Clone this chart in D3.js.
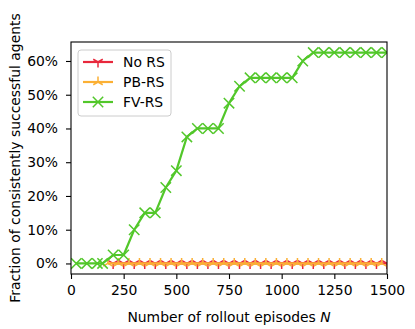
<!DOCTYPE html>
<html>
<head>
<meta charset="utf-8">
<script src="https://cdn.jsdelivr.net/npm/d3@7"></script>
<style>
  body { margin: 0; background: #fff; }
  svg { display: block; font-family: "DejaVu Sans", sans-serif; }
</style>
</head>
<body>
<svg width="415" height="329"></svg>
<script>
// rollout episodes N vs fraction of agents (in %)
var seriesNames = ["No RS", "PB-RS", "FV-RS"];

var noRsX = [200, 250, 300, 350, 400, 450, 500, 550, 600, 650, 700, 750, 800, 850,
             900, 950, 1000, 1050, 1100, 1150, 1200, 1250, 1300, 1350, 1400, 1450, 1500];
var noRsY = [0, 0, 0, 0, 0, 0, 0, 0, 0, 0, 0, 0, 0, 0, 0, 0, 0, 0, 0, 0, 0, 0, 0, 0, 0, 0, 0];

var pbRsX = [175, 225, 275, 325, 375, 425, 475, 525, 575, 625, 675, 725, 775, 825,
             875, 925, 975, 1025, 1075, 1125, 1175, 1225, 1275, 1325, 1375, 1425, 1475];
var pbRsY = [0, 0, 0, 0, 0, 0, 0, 0, 0, 0, 0, 0, 0, 0, 0, 0, 0, 0, 0, 0, 0, 0, 0, 0, 0, 0, 0];

var fvRsX = [25, 75, 125, 150, 200, 250, 300, 350, 400, 450, 500, 550, 600, 650, 700, 750,
             800, 850, 900, 950, 1000, 1050, 1100, 1150, 1200, 1250, 1300, 1350, 1400, 1450, 1500];
var fvRsY = [0, 0, 0, 0, 2.5, 2.5, 10, 15, 15, 22.5, 27.5, 37.5, 40, 40, 40, 47.5,
             52.5, 55, 55, 55, 55, 55, 60, 62.5, 62.5, 62.5, 62.5, 62.5, 62.5, 62.5, 62.5];

var xTicks = [0, 250, 500, 750, 1000, 1250, 1500];
var yTicks = [0, 10, 20, 30, 40, 50, 60];

var colors = ["#e8283c", "#fbb034", "#52c72a"];
var markers = ["tri_down", "tri_up", "x"];

var mLeft = 71, mRight = 387, mTop = 42, mBottom = 274;

var svg = d3.select("svg");

var x = d3.scaleLinear().domain([0, 1500]).range([mLeft, mRight]);
var y = d3.scaleLinear().domain([-3.125, 65.625]).range([mBottom, mTop]);

var markerPath = function(type, r) {
  if (type == "x") return "M" + (-r) + "," + (-r) + "L" + r + "," + r + "M" + (-r) + "," + r + "L" + r + "," + (-r);
  var a = 0.866 * r, b = 0.5 * r;
  if (type == "tri_down") return "M0,0L0," + r + "M0,0L" + (-a) + "," + (-b) + "M0,0L" + a + "," + (-b);
  return "M0,0L0," + (-r) + "M0,0L" + (-a) + "," + b + "M0,0L" + a + "," + b;
};
var markerSize = [5.5, 5.5, 5.2];

// clip to the axes box
svg.append("clipPath").attr("id", "clip")
  .append("rect").attr("x", mLeft).attr("y", mTop).attr("width", mRight - mLeft).attr("height", mBottom - mTop);

var series = [
  {xs: noRsX, ys: noRsY},
  {xs: pbRsX, ys: pbRsY},
  {xs: fvRsX, ys: fvRsY}
];

var plot = svg.append("g").attr("clip-path", "url(#clip)");
var line = d3.line().x(function(d){ return x(d[0]); }).y(function(d){ return y(d[1]); });

series.forEach(function(s, i) {
  var pts = d3.zip(s.xs, s.ys);
  plot.append("path")
    .attr("d", line(pts))
    .attr("fill", "none")
    .attr("stroke", colors[i])
    .attr("stroke-width", 2.2)
    .attr("stroke-linejoin", "round");
  plot.selectAll(".m" + i)
      .data(pts)
    .enter().append("path")
      .attr("class", "m" + i)
      .attr("transform", function(d){ return "translate(" + x(d[0]) + "," + y(d[1]) + ")"; })
      .attr("d", markerPath(markers[i], markerSize[i]))
      .attr("fill", "none")
      .attr("stroke", colors[i])
      .attr("stroke-width", 1.5);
});

// axes
var xAxis = svg.append("g").attr("transform", "translate(0," + mBottom + ")")
  .call(d3.axisBottom(x).tickValues(xTicks).tickSize(5).tickPadding(6).tickFormat(d3.format("d")));
var yAxis = svg.append("g").attr("transform", "translate(" + mLeft + ",0)")
  .call(d3.axisLeft(y).tickValues(yTicks).tickSize(5).tickPadding(8).tickFormat(function(d){ return d + "%"; }));

[xAxis, yAxis].forEach(function(ax) {
  ax.select(".domain").remove();
  ax.selectAll("line").attr("stroke", "#000").attr("stroke-width", 1.1);
  ax.selectAll("text").attr("font-size", "13.9px").attr("fill", "#000").attr("font-family", "DejaVu Sans");
});

// frame
svg.append("rect")
  .attr("x", mLeft).attr("y", mTop).attr("width", mRight - mLeft).attr("height", mBottom - mTop)
  .attr("fill", "none").attr("stroke", "#000").attr("stroke-width", 1.1);

svg.append("text")
  .attr("x", (mLeft + mRight) / 2).attr("y", 322)
  .attr("text-anchor", "middle").attr("font-size", "13.9px")
  .html("Number of rollout episodes <tspan font-style='italic'>N</tspan>");

svg.append("text")
  .attr("transform", "translate(20," + ((mTop + mBottom) / 2) + ") rotate(-90)")
  .attr("text-anchor", "middle").attr("font-size", "13.9px")
  .text("Fraction of consistently successful agents");

// legend
var lg = svg.append("g");
lg.append("rect")
  .attr("x", 78).attr("y", 50).attr("width", 93).attr("height", 66).attr("rx", 3)
  .attr("fill", "#fff").attr("fill-opacity", 0.8).attr("stroke", "#cccccc").attr("stroke-width", 1);
seriesNames.forEach(function(name, i) {
  var ry = 62 + i * 20;
  lg.append("line").attr("x1", 83).attr("x2", 113).attr("y1", ry).attr("y2", ry)
    .attr("stroke", colors[i]).attr("stroke-width", 2.2);
  lg.append("path").attr("transform", "translate(98," + ry + ")")
    .attr("d", markerPath(markers[i], markerSize[i]))
    .attr("fill", "none").attr("stroke", colors[i]).attr("stroke-width", 1.5);
  lg.append("text").attr("x", 123).attr("y", ry + 5).attr("font-size", "13.9px").text(name);
});
</script>
</body>
</html>
